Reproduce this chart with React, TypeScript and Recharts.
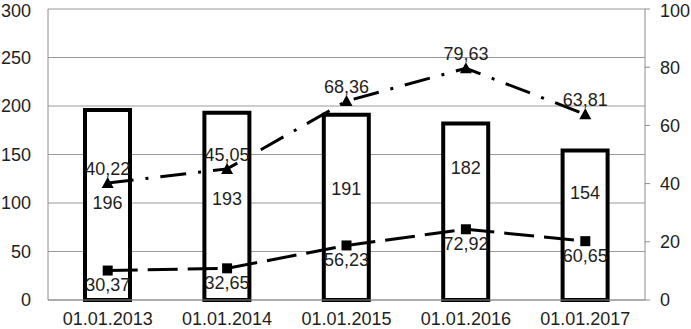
import React from "react";
import {
  ComposedChart,
  Bar,
  Line,
  XAxis,
  YAxis,
  CartesianGrid,
  LabelList,
} from "recharts";

const years = ["01.01.2013", "01.01.2014", "01.01.2015", "01.01.2016", "01.01.2017"];
const barValues = [196, 193, 191, 182, 154];
const squareValues = [30.37, 32.65, 56.23, 72.92, 60.65];
const triangleValues = [40.22, 45.05, 68.36, 79.63, 63.81];
const leftTicks = [0, 50, 100, 150, 200, 250, 300];
const rightTicks = [0, 20, 40, 60, 80, 100];

// manual nudges of the bar labels, as in the original
const barLabelShift = [-2, -7, -18, -44, -32];

const data = years.map((year, i) => ({
  year,
  bar: barValues[i],
  square: squareValues[i],
  triangle: triangleValues[i],
}));

const TEXT = "#1e1e1e";
const FONT = "'Liberation Sans', Arial, sans-serif";

const fmt = (v: any) => Number(v).toFixed(2).replace(".", ",");

const Triangle = (props: any) => {
  const { cx, cy } = props;
  if (cx == null || cy == null) return null;
  return (
    <polygon
      points={`${cx},${cy - 6} ${cx + 6},${cy + 5} ${cx - 6},${cy + 5}`}
      fill="#000"
    />
  );
};

const Square = (props: any) => {
  const { cx, cy } = props;
  if (cx == null || cy == null) return null;
  return <rect x={cx - 5} y={cy - 5} width={10} height={10} fill="#000" />;
};

const BarLabel = (props: any) => {
  const { x, y, width, height, value, index } = props;
  return (
    <text
      x={x + width / 2}
      y={y + height / 2 + (barLabelShift[index] || 0)}
      textAnchor="middle"
      dominantBaseline="central"
      fontSize={18}
      fill={TEXT}
      fontFamily={FONT}
    >
      {value}
    </text>
  );
};

export default function App() {
  return (
    <div style={{ position: "absolute", left: 0, top: 0, background: "#fff" }}>
      <ComposedChart
        width={691}
        height={329}
        data={data}
        margin={{ top: 9, right: 0, left: 0, bottom: 0 }}
        style={{ fontFamily: FONT }}
      >
        <CartesianGrid yAxisId="left" vertical={false} stroke="#9a9a9a" />
        <XAxis
          dataKey="year"
          height={29}
          tickLine={false}
          tickMargin={6}
          axisLine={{ stroke: "#8c8c8c" }}
          tick={{ fontSize: 18, fill: TEXT }}
        />
        <YAxis
          yAxisId="left"
          width={48}
          domain={[0, 300]}
          ticks={leftTicks}
          tickLine={false}
          tickMargin={11}
          axisLine={{ stroke: "#8c8c8c" }}
          tick={{ fontSize: 18, fill: TEXT }}
        />
        <YAxis
          yAxisId="right"
          orientation="right"
          width={46}
          domain={[0, 100]}
          ticks={rightTicks}
          tickSize={5}
          tickMargin={10}
          tickLine={{ stroke: "#8c8c8c" }}
          axisLine={{ stroke: "#8c8c8c" }}
          tick={{ fontSize: 18, fill: TEXT }}
        />
        <Bar
          yAxisId="left"
          dataKey="bar"
          barSize={45}
          fill="#fff"
          stroke="#000"
          strokeWidth={4}
          isAnimationActive={false}
        >
          <LabelList dataKey="bar" content={<BarLabel />} />
        </Bar>
        <Line
          yAxisId="left"
          dataKey="square"
          stroke="#000"
          strokeWidth={3}
          strokeDasharray="30 10"
          dot={<Square />}
          activeDot={false}
          isAnimationActive={false}
        >
          <LabelList
            dataKey="square"
            position="bottom"
            offset={8}
            formatter={fmt}
            style={{ fontSize: 18, fill: TEXT }}
          />
        </Line>
        <Line
          yAxisId="right"
          dataKey="triangle"
          stroke="#000"
          strokeWidth={3}
          strokeDasharray="26 12 3 12"
          dot={<Triangle />}
          activeDot={false}
          isAnimationActive={false}
        >
          <LabelList
            dataKey="triangle"
            position="top"
            offset={8}
            formatter={fmt}
            style={{ fontSize: 18, fill: TEXT }}
          />
        </Line>
      </ComposedChart>
    </div>
  );
}
